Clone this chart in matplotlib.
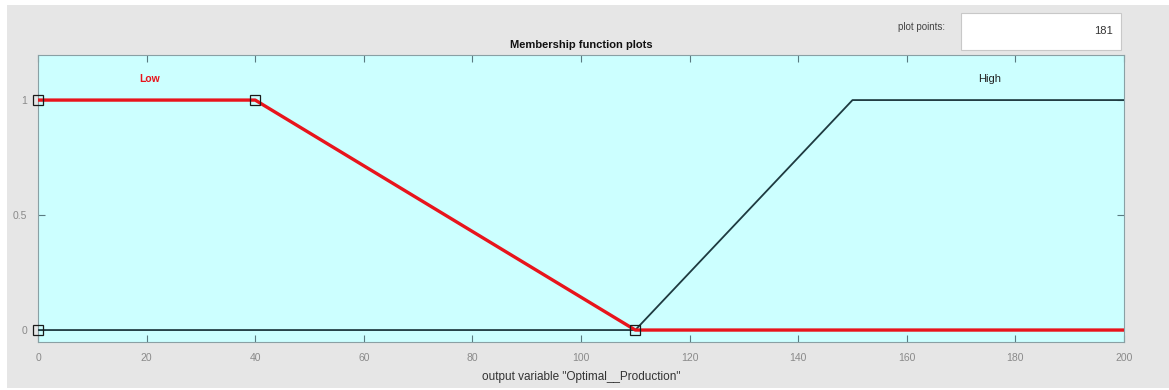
import matplotlib
matplotlib.use("Agg")
import matplotlib.pyplot as plt
from matplotlib.patches import Rectangle

plt.rcParams['font.family'] = ['Liberation Sans', 'DejaVu Sans']

# membership functions (output variable "Optimal__Production")
low_x = [0, 40, 110, 200]
low_y = [1, 1, 0, 0]
high_x = [0, 110, 150, 200]
high_y = [0, 0, 1, 1]

# vertex handles of the selected MF (Low)
handle_x = [0, 0, 40, 110]
handle_y = [1, 0, 1, 0]

x_ticks = [0, 20, 40, 60, 80, 100, 120, 140, 160, 180, 200]
y_ticks = [0, 0.5, 1]
plot_points = "181"

fig = plt.figure(figsize=(11.69, 3.9), dpi=100)
fig.patch.set_facecolor("white")

# gray panel behind everything
fig.add_artist(Rectangle((7 / 1169, 0.005), 1 - 7 / 1169, 1 - 5 / 390 - 0.005,
                         transform=fig.transFigure, facecolor="#e6e6e6",
                         edgecolor="none", zorder=-5))

ax = fig.add_axes([38 / 1169, 1 - 342 / 390, (1124 - 38) / 1169, (342 - 55) / 390])
ax.set_facecolor("#ccffff")

ax.plot(high_x, high_y, color="#1e3a40", lw=1.3, zorder=3)
ax.plot(low_x, low_y, color="#e8141c", lw=2.4, zorder=4)
ax.plot(handle_x, handle_y, linestyle="none", marker="s", markersize=6.5,
        markerfacecolor="none", markeredgecolor="#1a1a1a", markeredgewidth=0.9,
        zorder=5, clip_on=False)

ax.text(20.5, 1.09, "Low", color="#e8141c", fontsize=7.5, fontweight="bold",
        ha="center", va="center")
ax.text(175.3, 1.09, "High", color="#222222", fontsize=8, ha="center", va="center")

ax.set_xlim(0, 200)
ax.set_ylim(-0.052, 1.196)
ax.set_xticks(x_ticks)
ax.set_yticks(y_ticks)
ax.set_yticklabels(["0", "0.5", "1"])
ax.tick_params(direction="in", top=True, right=True, length=5, width=0.8,
               color="#5a7a80", labelcolor="#8a8a8a", labelsize=7.5)
ax.tick_params(axis="x", pad=8)
ax.tick_params(axis="y", pad=8)
for s in ax.spines.values():
    s.set_color("#8aa0a4")
    s.set_linewidth(0.8)

ax.set_title("Membership function plots", fontsize=8, fontweight="bold",
             color="#111111", pad=5)
ax.set_xlabel('output variable "Optimal__Production"', fontsize=8.5,
              color="#333333", labelpad=6)

# plot points box
fig.text(945 / 1169, 1 - 27 / 390, "plot points:", fontsize=7, color="#444444",
         ha="right", va="center")
fig.add_artist(Rectangle((961 / 1169, 1 - 50 / 390), 160 / 1169, 37 / 390,
                         transform=fig.transFigure, facecolor="white",
                         edgecolor="#c8c8c8", lw=0.8, zorder=1))
fig.text(1113 / 1169, 1 - 31 / 390, plot_points, fontsize=8, color="#333333",
         ha="right", va="center")

fig.savefig("out.png", dpi=100)
